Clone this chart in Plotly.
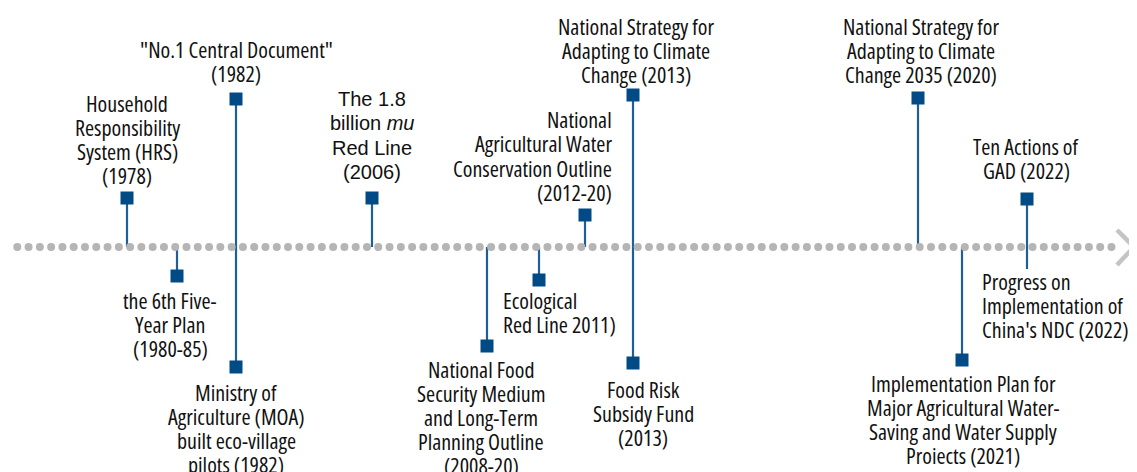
import numpy as np
import plotly.graph_objects as go

# Timeline events: position along the axis, end of the stem, and label text
event_x = [127, 177, 236, 236, 372, 487, 539, 585, 633, 633, 918, 962, 1027, 1027]
stem_end = [198, 276, 99, 367, 198, 346, 280, 215, 95, 363, 98, 360, 199, 269]
has_marker = [True] * 13 + [False]

labels = [
    ["Household", "Responsibility", "System (HRS)", "(1978)"],
    ["the 6th Five-", "Year Plan", "(1980-85)"],
    ['"No.1 Central Document"', "(1982)"],
    ["Ministry of", "Agriculture (MOA)", "built eco-village", "pilots (1982)"],
    ["The 1.8", "billion <i>mu</i>", "Red Line", "(2006)"],
    ["National Food", "Security Medium", "and Long-Term",
     "Planning Outline", "(2008-20)"],
    ["Ecological", "Red Line 2011)"],
    ["National", "Agricultural Water", "Conservation Outline", "(2012-20)"],
    ["National Strategy for", "Adapting to Climate", "Change (2013)"],
    ["Food Risk", "Subsidy Fund", "(2013)"],
    ["National Strategy for", "Adapting to Climate", "Change 2035 (2020)"],
    ["Implementation Plan for", "Major Agricultural Water-",
     "Saving and Water Supply", "Proiects (2021)"],
    ["Ten Actions of", "GAD (2022)"],
    ["Progress on", "Implementation of", "China's NDC (2022)"],
]

# Label placement: anchor x, alignment, y of the first line
label_x = [127, 170, 236, 236, 372, 481, 501, 614, 636, 643, 921, 963, 1026, 980]
label_align = ["center", "center", "center", "center", "center", "center",
               "left", "right", "center", "center", "center", "center",
               "center", "left"]
label_top = [102.5, 300, 48.5, 391.5, 99, 368.5, 300, 119.3, 26, 388.5,
             26, 382.7, 146, 281]
line_gap = 24.1

AXIS_Y = 247
STEM_COLOR = "#1f5f99"
MARK_COLOR = "#004a86"
DOT_COLOR = "#b5b5b5"
NARROW = "Open Sans, sans-serif"
WIDE = "Liberation Sans, Arial, sans-serif"
PAD = 8  # page body margin of the html output

fig = go.Figure()

# stems
for x, y in zip(event_x, stem_end):
    fig.add_trace(go.Scatter(x=[x, x], y=[AXIS_Y, y], mode="lines",
                             line=dict(color=STEM_COLOR, width=2.2),
                             hoverinfo="skip"))

# dotted axis
dots = np.arange(17.3, 1120, 11.28)
fig.add_trace(go.Scatter(x=dots, y=[AXIS_Y] * len(dots), mode="markers",
                         marker=dict(color=DOT_COLOR, size=8, line_width=0),
                         hoverinfo="skip"))

# arrow head
fig.add_trace(go.Scatter(x=[1117, 1134, 1117], y=[230, 247, 265],
                         mode="lines",
                         line=dict(color="#c4c4c4", width=4.5),
                         hoverinfo="skip"))

# square markers
mx = [x for x, m in zip(event_x, has_marker) if m]
my = [y for y, m in zip(stem_end, has_marker) if m]
fig.add_trace(go.Scatter(x=mx, y=my, mode="markers",
                         marker=dict(symbol="square", size=13,
                                     color=MARK_COLOR, line_width=0),
                         hoverinfo="skip"))

for i, lines in enumerate(labels):
    wide = i == 4
    for j, txt in enumerate(lines):
        if not wide:
            txt = '<span style="font-stretch:condensed">' + txt + "</span>"
        fig.add_annotation(
            x=label_x[i], y=label_top[i] + j * (24.3 if wide else line_gap),
            xref="x", yref="y", text=txt, showarrow=False,
            xanchor=label_align[i], yanchor="middle",
            font=dict(family=WIDE if wide else NARROW,
                      size=20 if wide else 22, color="#111111"))

fig.update_layout(
    width=1137, height=472,
    margin=dict(l=0, r=0, t=0, b=0),
    paper_bgcolor="white", plot_bgcolor="white",
    showlegend=False,
    xaxis=dict(range=[PAD, 1137 + PAD], visible=False, fixedrange=True),
    yaxis=dict(range=[472 + PAD, PAD], visible=False, fixedrange=True),
)

fig.write_html("out.html")
